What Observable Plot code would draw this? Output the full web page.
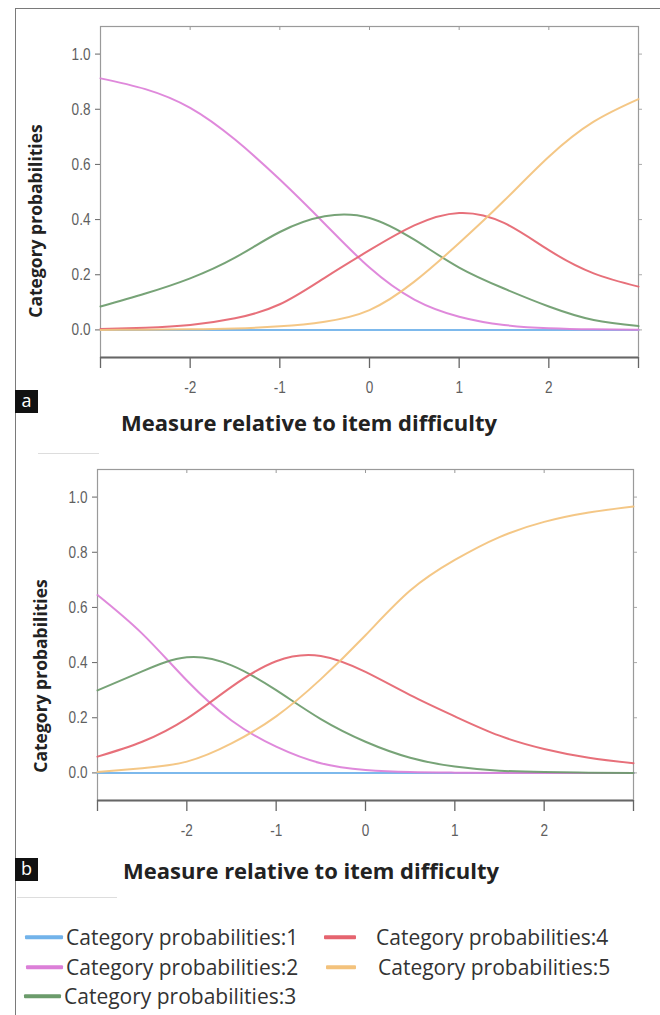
<!DOCTYPE html>
<html>
<head>
<meta charset="utf-8">
<script src="https://cdn.jsdelivr.net/npm/d3@7"></script>
<script src="https://cdn.jsdelivr.net/npm/@observablehq/plot@0.6"></script>
<style>
  html, body { margin: 0; padding: 0; background: #fff; }
  body { width: 660px; height: 1015px; position: relative; overflow: hidden; }
  .abs { position: absolute; }
  .border { left: 15px; top: 8px; width: 700px; height: 1100px; border-left: 1.5px solid #7a7a7a; border-top: 1.5px solid #7a7a7a; }
  .ytitle { font-family: "Open Sans", sans-serif; font-weight: 700; font-size: 17.5px; color: #222; white-space: nowrap;
            transform: translate(-50%, -50%) rotate(-90deg); }
  .xtitle { font-family: "Open Sans", sans-serif; font-weight: 700; font-size: 22px; color: #222; white-space: nowrap;
            transform: translate(-50%, -50%); }
  .tag { width: 23px; height: 23px; background: #111; color: #fff; font-family: "Open Sans", sans-serif; font-size: 18px;
         line-height: 21px; text-align: center; }
  .leg { font-family: "Open Sans", sans-serif; font-size: 21px; color: #333; white-space: nowrap; transform: translateY(-50%); }
  .sw { height: 3.5px; transform: translateY(-50%); border-radius: 1px; }
  .faint { height: 1px; background: #ddd; }
</style>
</head>
<body>
<div class="abs border"></div>
<div id="pa" class="abs" style="left:0;top:0"></div>
<div id="pb" class="abs" style="left:0;top:443px"></div>
<div class="abs faint" style="left:38px;top:453px;width:61px"></div>
<div class="abs faint" style="left:17px;top:897px;width:100px"></div>
<div id="overlay"></div>
<script>
// ---- data ----
const categories = ["Category probabilities:1", "Category probabilities:2", "Category probabilities:3",
                    "Category probabilities:4", "Category probabilities:5"];
const colors = ["#72b3ea", "#dc7fd8", "#6b9b6b", "#e5646f", "#f3c27c"];
const measures = [-3, -2.5, -2, -1.5, -1, -0.5, 0, 0.5, 1, 1.5, 2, 2.5, 3];
const xTicks = [-3, -2, -1, 0, 1, 2, 3];
const yTicks = [0, 0.2, 0.4, 0.6, 0.8, 1.0];

// panel a
const a_cat1 = [0, 0, 0, 0, 0, 0, 0, 0, 0, 0, 0, 0, 0];
const a_cat2 = [0.912, 0.873, 0.805, 0.690, 0.545, 0.385, 0.226, 0.110, 0.048, 0.018, 0.006, 0.002, 0.001];
const a_cat3 = [0.085, 0.132, 0.187, 0.262, 0.355, 0.412, 0.406, 0.327, 0.226, 0.150, 0.085, 0.036, 0.014];
const a_cat4 = [0.003, 0.008, 0.018, 0.042, 0.093, 0.189, 0.289, 0.379, 0.424, 0.388, 0.289, 0.205, 0.157];
const a_cat5 = [0.000, 0.001, 0.002, 0.005, 0.013, 0.030, 0.072, 0.175, 0.315, 0.468, 0.628, 0.755, 0.837];

// panel b
const b_cat1 = [0, 0, 0, 0, 0, 0, 0, 0, 0, 0, 0, 0, 0];
const b_cat2 = [0.645, 0.505, 0.335, 0.190, 0.095, 0.035, 0.011, 0.003, 0.001, 0, 0, 0, 0];
const b_cat3 = [0.299, 0.368, 0.419, 0.390, 0.300, 0.195, 0.113, 0.055, 0.023, 0.008, 0.003, 0.001, 0];
const b_cat4 = [0.059, 0.113, 0.197, 0.312, 0.405, 0.424, 0.366, 0.282, 0.205, 0.135, 0.087, 0.055, 0.035];
const b_cat5 = [0.003, 0.017, 0.041, 0.107, 0.205, 0.340, 0.499, 0.661, 0.772, 0.855, 0.910, 0.944, 0.966];

function tidy(series) {
  const rows = [];
  series.forEach((vals, i) => vals.forEach((v, j) => rows.push({cat: categories[i], x: measures[j], y: v})));
  return rows;
}
const dataA = tidy([a_cat1, a_cat2, a_cat3, a_cat4, a_cat5]);
const dataB = tidy([b_cat1, b_cat2, b_cat3, b_cat4, b_cat5]);

function panel(data, marginLeft, marginRight) {
  const svg = Plot.plot({
    width: 660, height: 400,
    marginLeft, marginRight, marginTop: 26, marginBottom: 43,
    x: {domain: [-3, 3]},
    y: {domain: [-0.1, 1.1]},
    color: {domain: categories, range: colors},
    style: {fontFamily: '"Liberation Sans", Arial, sans-serif',
            fontSize: "17px", color: "#666", background: "transparent", overflow: "visible"},
    marks: [
      Plot.frame({stroke: "#9a9a9a", strokeWidth: 1.2}),
      Plot.axisY({ticks: yTicks, tickFormat: d => d.toFixed(1), tickSize: 5, tickPadding: 5, label: null, fontSize: 17}),
      Plot.axisY({anchor: "right", ticks: yTicks, tickFormat: () => "", tickSize: 3, label: null, stroke: "#aaa"}),
      Plot.axisX({anchor: "top", ticks: [-2, -1, 0, 1, 2], tickFormat: () => "", tickSize: -3, label: null, stroke: "#999"}),
      Plot.ruleY([-0.1], {stroke: "#666", strokeWidth: 1.8}),
      Plot.axisX({ticks: xTicks, tickFormat: d => (d === -3 || d === 3) ? "" : String(d), tickSize: 11, tickPadding: 12,
                  label: null, stroke: "#666", strokeWidth: 1.3, fontSize: 17}),
      Plot.line(data, {x: "x", y: "y", stroke: "cat", z: "cat", curve: "natural", strokeWidth: 2, strokeOpacity: 0.92})
    ]
  });
  // slightly condensed, mid-gray tick labels, like the reference
  svg.querySelectorAll('g[aria-label$="tick label"] text').forEach(t => {
    const tr = t.getAttribute("transform") || "";
    t.setAttribute("transform", tr + " scale(0.8,1)");
    t.setAttribute("font-size", "17");
    t.style.fontSize = "17px";
    t.setAttribute("fill", "#5f5f5f");
  });
  return svg;
}

document.getElementById("pa").appendChild(panel(dataA, 100, 22));
document.getElementById("pb").appendChild(panel(dataB, 97, 27));

// ---- text overlays ----
const ov = document.getElementById("overlay");
function add(html, cls, style) {
  const d = document.createElement("div");
  d.className = "abs " + cls;
  d.setAttribute("style", style);
  d.innerHTML = html;
  ov.appendChild(d);
  return d;
}
add("Category probabilities", "ytitle", "left:35px;top:221px");
add("Category probabilities", "ytitle", "left:40px;top:676px");
add("Measure relative to item difficulty", "xtitle", "left:309px;top:422px");
add("Measure relative to item difficulty", "xtitle", "left:311px;top:870px");
add("a", "tag", "left:15px;top:390px");
add("b", "tag", "left:15px;top:858px");

// legend
const legPos = [
  {sx: 25, sw: 38, tx: 66, y: 937},
  {sx: 26, sw: 37, tx: 66, y: 967},
  {sx: 24, sw: 37, tx: 64, y: 996},
  {sx: 324, sw: 32, tx: 376, y: 937},
  {sx: 326, sw: 30, tx: 378, y: 967}
];
categories.forEach((c, i) => {
  const p = legPos[i];
  add("", "sw", `left:${p.sx}px;top:${p.y}px;width:${p.sw}px;background:${colors[i]}`);
  add(c, "leg", `left:${p.tx}px;top:${p.y}px`);
});
</script>
</body>
</html>
